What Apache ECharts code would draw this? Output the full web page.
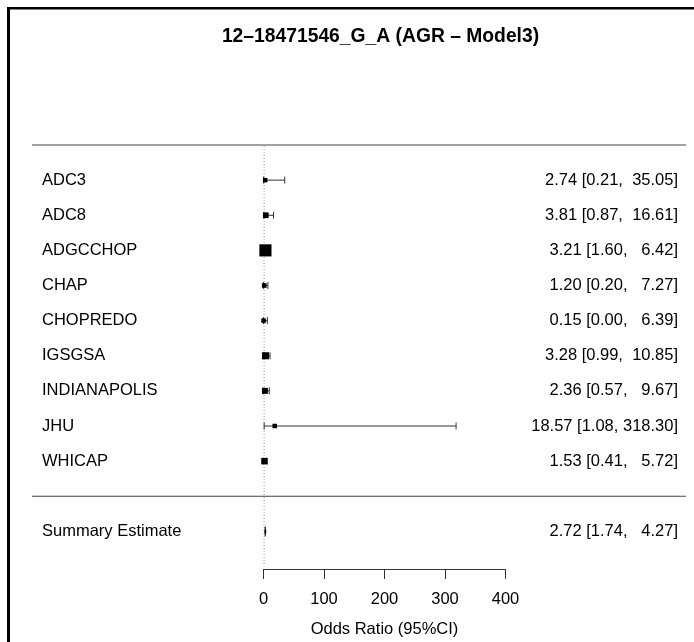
<!DOCTYPE html>
<html>
<head>
<meta charset="utf-8">
<title>12–18471546_G_A (AGR – Model3)</title>
<script src="https://cdn.jsdelivr.net/npm/echarts@6/dist/echarts.min.js"></script>
<style>
  html, body { margin: 0; padding: 0; background: #fff; }
  #chart { width: 694px; height: 642px; }
</style>
</head>
<body>
<div id="chart"></div>
<script>
// Study-level estimates: odds ratio with 95% confidence interval
const studies = ['ADC3', 'ADC8', 'ADGCCHOP', 'CHAP', 'CHOPREDO', 'IGSGSA', 'INDIANAPOLIS', 'JHU', 'WHICAP'];
const oddsRatio = [2.74, 3.81, 3.21, 1.20, 0.15, 3.28, 2.36, 18.57, 1.53];
const ciLower = [0.21, 0.87, 1.60, 0.20, 0.00, 0.99, 0.57, 1.08, 0.41];
const ciUpper = [35.05, 16.61, 6.42, 7.27, 6.39, 10.85, 9.67, 318.30, 5.72];

// Pooled estimate
const summaryLabel = 'Summary Estimate';
const summaryOR = 2.72;
const summaryLower = 1.74;
const summaryUpper = 4.27;

// Axis ticks
const axisTicks = [0, 100, 200, 300, 400];

const FONT = '"Liberation Sans", Arial, Helvetica, sans-serif';
const TEXT_SIZE = 16.5;

// Plot spans a wider x range than the labelled axis (room for the text columns)
const X_LIM = [-382.6, 698.3];
const ROW_TOP = 10, ROW_BOTTOM = -2;
const rows = studies.map((_, i) => studies.length - i);
const SUMMARY_ROW = -1;

const fmt = v => v.toFixed(2);
const upperWidth = Math.max(...ciUpper.concat([summaryUpper]).map(v => fmt(v).length));
const ciText = (est, lo, hi) => fmt(est) + ' [' + fmt(lo) + ', ' + fmt(hi).padStart(upperWidth, ' ') + ']';

// Marker size from inverse standard error on the log scale
function markerSize(lo, hi) {
  const se = (Math.log(hi) - Math.log(Math.max(lo, 0.005))) / (2 * 1.96);
  return Math.max(4.5, 4.3 / se);
}

function textEl(x, y, text, align) {
  return {
    type: 'text',
    style: {
      x: x, y: y, text: text, fill: '#000',
      font: TEXT_SIZE + 'px ' + FONT,
      align: align, verticalAlign: 'middle'
    }
  };
}

const chart = echarts.init(document.getElementById('chart'), null, { renderer: 'canvas' });

const option = {
  animation: false,
  backgroundColor: '#fff',
  title: {
    text: '12–18471546_G_A (AGR – Model3)',
    left: 375.5,
    textAlign: 'center',
    top: 22,
    textStyle: { fontFamily: FONT, fontSize: 19.3, fontWeight: 'bold', color: '#000' }
  },
  graphic: [
    { type: 'rect', shape: { x: 7, y: 7, width: 3, height: 640 }, style: { fill: '#000' } },
    { type: 'rect', shape: { x: 7, y: 7, width: 690, height: 2.5 }, style: { fill: '#000' } }
  ],
  grid: [
    { left: 32, right: 8, top: 145, height: 421.5 },
    { left: 263.5, width: 242, top: 500, height: 69 }
  ],
  xAxis: [
    { gridIndex: 0, type: 'value', min: X_LIM[0], max: X_LIM[1], show: false },
    {
      gridIndex: 1, type: 'value', min: axisTicks[0], max: axisTicks[axisTicks.length - 1],
      interval: axisTicks[1] - axisTicks[0], position: 'bottom',
      axisLine: { show: true, lineStyle: { color: '#333', width: 1 } },
      axisTick: { show: true, inside: false, length: 10, lineStyle: { color: '#333' } },
      axisLabel: { show: true, margin: 22, fontFamily: FONT, fontSize: TEXT_SIZE, color: '#000' },
      splitLine: { show: false },
      name: 'Odds Ratio (95%CI)',
      nameLocation: 'middle',
      nameGap: 52,
      nameTextStyle: { fontFamily: FONT, fontSize: TEXT_SIZE, color: '#000' }
    }
  ],
  yAxis: [
    { gridIndex: 0, type: 'value', min: ROW_BOTTOM, max: ROW_TOP, show: false },
    { gridIndex: 1, type: 'value', min: 0, max: 1, show: false }
  ],
  series: [
    // Horizontal rules above the studies and above the summary
    {
      type: 'custom', xAxisIndex: 0, yAxisIndex: 0, silent: true,
      data: [[ROW_TOP], [0]],
      renderItem: function (params, api) {
        const a = api.coord([X_LIM[0], api.value(0)]);
        const b = api.coord([X_LIM[1], api.value(0)]);
        return { type: 'line', shape: { x1: a[0], y1: a[1], x2: b[0], y2: b[1] },
                 style: { stroke: '#444', lineWidth: 1 } };
      }
    },
    // Reference line at OR = 1
    {
      type: 'custom', xAxisIndex: 0, yAxisIndex: 0, silent: true,
      data: [[1]],
      renderItem: function (params, api) {
        const a = api.coord([api.value(0), ROW_TOP]);
        const b = api.coord([api.value(0), ROW_BOTTOM]);
        return { type: 'line', shape: { x1: a[0], y1: a[1] + 1, x2: b[0], y2: b[1] },
                 style: { stroke: '#999', lineWidth: 1, lineDash: [1, 2] } };
      }
    },
    // Studies: CI whiskers, weighted squares and text columns
    {
      type: 'custom', xAxisIndex: 0, yAxisIndex: 0, silent: true,
      data: studies.map((s, i) => [rows[i], oddsRatio[i], ciLower[i], ciUpper[i], i]),
      renderItem: function (params, api) {
        const row = api.value(0), est = api.value(1), lo = api.value(2), hi = api.value(3);
        const i = api.value(4);
        const pLo = api.coord([lo, row]);
        const pHi = api.coord([hi, row]);
        const pEst = api.coord([est, row]);
        const s = markerSize(lo, hi);
        const cap = 3.5;
        const lineStyle = { stroke: '#333', lineWidth: 1 };
        const left = api.coord([X_LIM[0], row]);
        const right = api.coord([X_LIM[1], row]);
        return {
          type: 'group',
          children: [
            { type: 'line', shape: { x1: pLo[0], y1: pLo[1], x2: pHi[0], y2: pHi[1] }, style: lineStyle },
            { type: 'line', shape: { x1: pLo[0], y1: pLo[1] - cap, x2: pLo[0], y2: pLo[1] + cap }, style: lineStyle },
            { type: 'line', shape: { x1: pHi[0], y1: pHi[1] - cap, x2: pHi[0], y2: pHi[1] + cap }, style: lineStyle },
            { type: 'rect', shape: { x: pEst[0] - s / 2, y: pEst[1] - s / 2, width: s, height: s }, style: { fill: '#000' } },
            textEl(left[0] + 10, left[1], studies[i], 'left'),
            textEl(right[0] - 8, right[1], ciText(oddsRatio[i], ciLower[i], ciUpper[i]), 'right')
          ]
        };
      }
    },
    // Summary estimate diamond
    {
      type: 'custom', xAxisIndex: 0, yAxisIndex: 0, silent: true,
      data: [[SUMMARY_ROW, summaryOR, summaryLower, summaryUpper]],
      renderItem: function (params, api) {
        const row = api.value(0), est = api.value(1), lo = api.value(2), hi = api.value(3);
        const pLo = api.coord([lo, row]);
        const pHi = api.coord([hi, row]);
        const pEst = api.coord([est, row]);
        const h = 5;
        const left = api.coord([X_LIM[0], row]);
        const right = api.coord([X_LIM[1], row]);
        return {
          type: 'group',
          children: [
            { type: 'polygon',
              shape: { points: [[pLo[0], pLo[1]], [pEst[0], pEst[1] - h], [pHi[0], pHi[1]], [pEst[0], pEst[1] + h]] },
              style: { fill: '#000', stroke: '#000', lineWidth: 0.5 } },
            textEl(left[0] + 10, left[1], summaryLabel, 'left'),
            textEl(right[0] - 8, right[1], ciText(est, lo, hi), 'right')
          ]
        };
      }
    }
  ]
};

chart.setOption(option);
</script>
</body>
</html>
